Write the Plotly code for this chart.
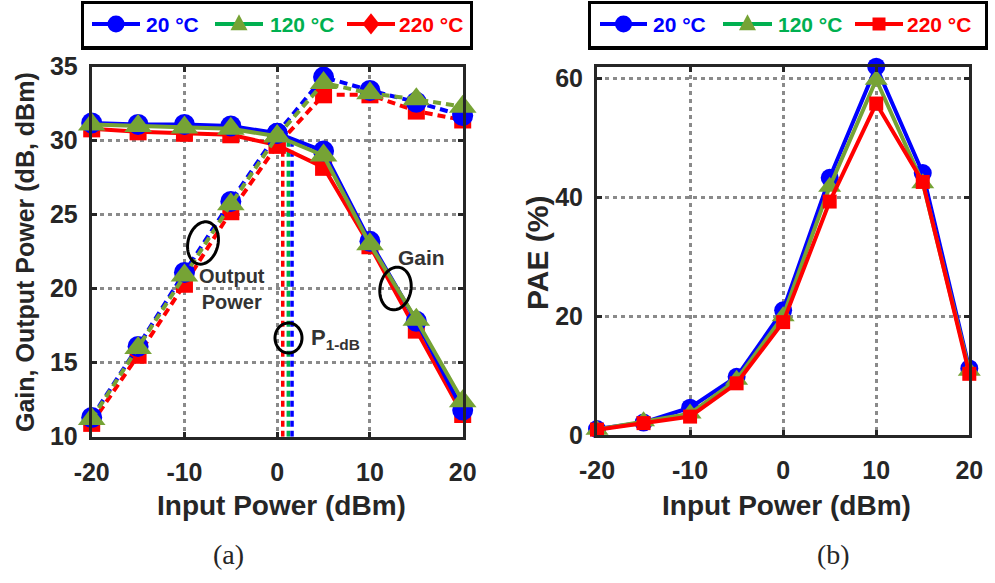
import numpy as np
import plotly.graph_objects as go

W, H = 995, 583

# ---- data -------------------------------------------------------------
pin = [-20, -15, -10, -5, 0, 5, 10, 15, 20]          # input power (dBm)
temps = ["20 °C", "120 °C", "220 °C"]

gain_20 = [31.2, 31.1, 31.1, 31.0, 30.5, 29.3, 23.2, 17.8, 11.8]
gain_120 = [31.1, 31.0, 30.9, 30.8, 30.3, 29.0, 23.0, 17.9, 12.4]
gain_220 = [30.8, 30.6, 30.5, 30.4, 29.7, 28.2, 22.9, 17.2, 11.5]

pout_20 = [11.3, 16.1, 21.1, 25.9, 30.5, 34.3, 33.4, 32.6, 31.7]
pout_120 = [11.2, 16.0, 20.9, 25.7, 30.3, 33.9, 33.2, 32.8, 32.3]
pout_220 = [10.9, 15.5, 20.3, 25.2, 29.7, 33.1, 33.1, 32.0, 31.4]

p1db_in = [1.6, 1.2, 0.6]                            # P1dB input level per temperature

pae_20 = [1.0, 2.1, 4.6, 9.8, 21.0, 43.3, 62.0, 44.1, 11.2]
pae_120 = [0.9, 2.3, 3.6, 9.3, 20.0, 41.8, 59.8, 42.4, 10.8]
pae_220 = [0.9, 2.0, 3.1, 8.7, 19.0, 39.3, 55.8, 42.6, 10.3]

x_ticks = [-20, -10, 0, 10, 20]
x_tick_text = ["-20", "-10", "0", "10", "20"]
y1_ticks = [10, 15, 20, 25, 30, 35]
y2_ticks = [0, 20, 40, 60]

# ---- styling ------------------------------------------------------------
BLUE = "#0000FF"
OLIVE = "#76A335"
GREEN = "#00B050"
RED = "#FF0000"
INK = "#262626"
FONT = "Liberation Sans, Arial, sans-serif"


def px(x):
    return x / W


def py(y):
    return 1 - y / H


fig = go.Figure()


def curve(x, y, xa, ya, color, mcolor, symbol, msize, dash, name):
    fig.add_trace(go.Scatter(
        x=x, y=y, xaxis=xa, yaxis=ya, mode="lines+markers", name=name,
        line=dict(color=color, width=4, dash=dash),
        marker=dict(symbol=symbol, size=msize, color=mcolor, line=dict(width=0)),
        cliponaxis=False, showlegend=False, hoverinfo="skip"))


# P1dB markers (vertical dashed lines up to the gain curve)
gains = [gain_20, gain_120, gain_220]
p1_colors = [BLUE, GREEN, RED]
for p, g, c in reversed(list(zip(p1db_in, gains, p1_colors))):
    top = float(np.interp(p, pin, g))
    fig.add_trace(go.Scatter(x=[p, p], y=[10, top], xaxis="x", yaxis="y", mode="lines",
                             line=dict(color=c, width=3.5, dash="6px,4px"),
                             showlegend=False, hoverinfo="skip"))

DASH = "8px,5px"
# (a) gain (solid) and output power (dashed)
curve(pin, gain_220, "x", "y", RED, RED, "square", 17, "solid", temps[2])
curve(pin, pout_220, "x", "y", RED, RED, "square", 17, DASH, temps[2])
curve(pin, gain_20, "x", "y", BLUE, BLUE, "circle", 21, "solid", temps[0])
curve(pin, pout_20, "x", "y", BLUE, BLUE, "circle", 21, DASH, temps[0])
curve(pin, gain_120, "x", "y", OLIVE, OLIVE, "triangle-up", 24, "solid", temps[1])
curve(pin, pout_120, "x", "y", OLIVE, OLIVE, "triangle-up", 24, DASH, temps[1])

# (b) PAE
curve(pin, pae_20, "x2", "y2", BLUE, BLUE, "circle", 18, "solid", temps[0])
curve(pin, pae_120, "x2", "y2", OLIVE, OLIVE, "triangle-up", 20, "solid", temps[1])
curve(pin, pae_220, "x2", "y2", RED, RED, "square", 14, "solid", temps[2])

axis_style = dict(
    showline=True, linewidth=3, linecolor=INK, mirror="allticks",
    ticks="inside", ticklen=5, tickwidth=2.5, tickcolor=INK,
    showgrid=True, gridcolor="#8a8a8a", gridwidth=3, griddash="4px,4px",
    zeroline=False, automargin=False,
    tickfont=dict(family=FONT, size=25, color=INK, weight="bold"),
)

fig.update_layout(
    width=W, height=H,
    margin=dict(l=0, r=0, t=0, b=0, pad=0, autoexpand=False),
    paper_bgcolor="white", plot_bgcolor="white",
    showlegend=False,
    xaxis=dict(domain=[px(91.7), px(462.7)], range=[-20, 20], tickvals=x_ticks,
               ticktext=x_tick_text, anchor="y", ticklabelstandoff=11, **axis_style),
    yaxis=dict(domain=[py(436.7), py(66.7)], range=[10, 35], tickvals=y1_ticks,
               anchor="x", ticklabelstandoff=6, **axis_style),
    xaxis2=dict(domain=[px(597), px(969.3)], range=[-20, 20], tickvals=x_ticks,
                ticktext=x_tick_text, anchor="y2", ticklabelstandoff=11, **axis_style),
    yaxis2=dict(domain=[py(435), py(66.7)], range=[0, 62], tickvals=y2_ticks,
                anchor="x2", ticklabelstandoff=6, **axis_style),
)

shapes = []
annotations = []


def text(x, y, s, size, color=INK, bold=True, xanchor="center", angle=0, family=FONT):
    annotations.append(dict(
        x=px(x), y=py(y), xref="paper", yref="paper", text=s, showarrow=False,
        xanchor=xanchor, yanchor="middle", textangle=angle,
        font=dict(family=family, size=size, color=color, weight="bold" if bold else "normal")))


def ellipse(cx, cy, w, h, ang):
    a, b = w / 2, h / 2
    phi = np.radians(ang)
    t = np.linspace(0, 2 * np.pi, 60)
    u, v = a * np.cos(t), b * np.sin(t)
    xs = cx + u * np.cos(phi) - v * np.sin(phi)
    ys = cy + u * np.sin(phi) + v * np.cos(phi)
    path = "M" + " L".join(f"{px(X):.5f},{py(Y):.5f}" for X, Y in zip(xs, ys)) + " Z"
    shapes.append(dict(type="path", path=path, xref="paper", yref="paper",
                       line=dict(color="black", width=3)))


# axis titles and panel labels
text(281.5, 505, "Input Power (dBm)", 28)
text(786, 505, "Input Power (dBm)", 28)
text(25, 252, "Gain, Output Power (dB, dBm)", 25, angle=-90)
text(537, 253, "PAE (%)", 30, angle=-90)
text(228, 554, "(a)", 28, bold=False, family="Liberation Serif, Times New Roman, serif")
text(833, 554, "(b)", 28, bold=False, family="Liberation Serif, Times New Roman, serif")

# callouts on panel (a)
ellipse(203, 243, 30, 43, 14)
text(232, 289, "Output<br>Power", 20, color="#333333")
ellipse(288.5, 338, 27, 30, 0)
text(309, 339, "P<sub>1-dB</sub>", 22, color="#333333", xanchor="left")
ellipse(395.5, 288.5, 31, 43, 10)
text(421, 258, "Gain", 21, color="#333333")


# legend boxes drawn as framed panels above each plot
def legend_box(x0, x1, items):
    shapes.append(dict(type="rect", xref="paper", yref="paper",
                       x0=px(x0), x1=px(x1), y0=py(50), y1=py(1),
                       fillcolor="black", line=dict(width=0), layer="above"))
    shapes.append(dict(type="rect", xref="paper", yref="paper",
                       x0=px(x0 + 3), x1=px(x1 - 3), y0=py(46), y1=py(4),
                       fillcolor="white", line=dict(width=0), layer="above"))
    yc = 24
    for (lx0, lx1, tx, label, lcolor, mcolor, sym, ms) in items:
        shapes.append(dict(type="line", xref="paper", yref="paper",
                           x0=px(lx0), x1=px(lx1), y0=py(yc), y1=py(yc),
                           line=dict(color=lcolor, width=4), layer="above"))
        cx = (lx0 + lx1) / 2
        r = ms / 2
        if sym == "circle":
            shapes.append(dict(type="circle", xref="paper", yref="paper",
                               x0=px(cx - r), x1=px(cx + r), y0=py(yc + r), y1=py(yc - r),
                               fillcolor=mcolor, line=dict(width=0), layer="above"))
        elif sym == "square":
            shapes.append(dict(type="rect", xref="paper", yref="paper",
                               x0=px(cx - r), x1=px(cx + r), y0=py(yc + r), y1=py(yc - r),
                               fillcolor=mcolor, line=dict(width=0), layer="above"))
        elif sym == "triangle":
            pts = [(cx - r, yc + r * 0.75), (cx + r, yc + r * 0.75), (cx, yc - r * 1.15)]
            path = "M" + " L".join(f"{px(a):.5f},{py(b):.5f}" for a, b in pts) + " Z"
            shapes.append(dict(type="path", path=path, xref="paper", yref="paper",
                               fillcolor=mcolor, line=dict(width=0), layer="above"))
        elif sym == "diamond":
            pts = [(cx, yc - r * 1.25), (cx + r, yc), (cx, yc + r * 1.25), (cx - r, yc)]
            path = "M" + " L".join(f"{px(a):.5f},{py(b):.5f}" for a, b in pts) + " Z"
            shapes.append(dict(type="path", path=path, xref="paper", yref="paper",
                               fillcolor=mcolor, line=dict(width=0), layer="above"))
        text(tx, yc, label, 21, color=lcolor, xanchor="left")


legend_box(81, 473, [
    (92, 140, 144, temps[0], BLUE, BLUE, "circle", 17),
    (215, 263, 268, temps[1], GREEN, OLIVE, "triangle", 17),
    (347, 395, 397, temps[2], RED, RED, "diamond", 17),
])
legend_box(588, 988, [
    (600, 647, 651, temps[0], BLUE, BLUE, "circle", 17),
    (723, 772, 776, temps[1], GREEN, OLIVE, "triangle", 17),
    (855, 903, 905, temps[2], RED, RED, "square", 13),
])

fig.update_layout(shapes=shapes, annotations=annotations)

fig.write_html("out.html")
